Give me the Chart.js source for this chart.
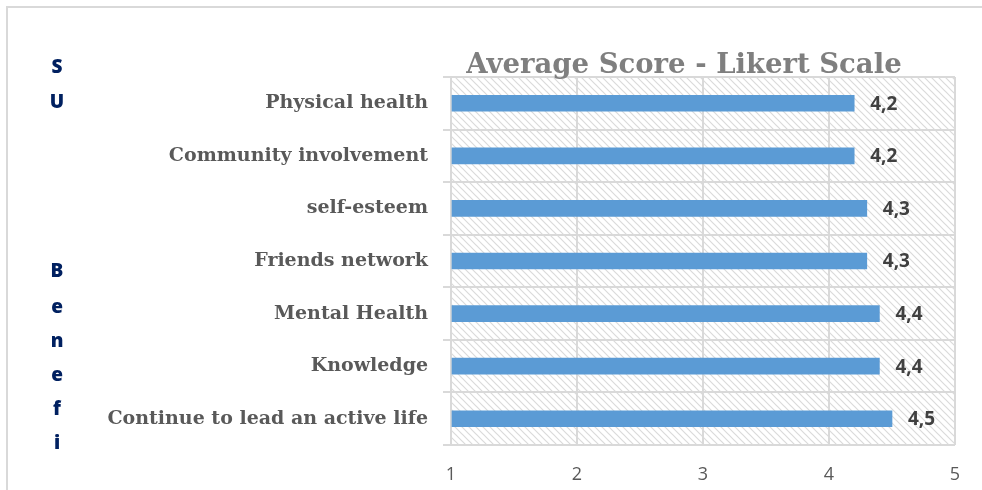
<!DOCTYPE html>
<html>
<head>
<meta charset="utf-8">
<script src="https://cdn.jsdelivr.net/npm/chart.js@4/dist/chart.umd.min.js"></script>
<style>
  html, body { margin: 0; padding: 0; background: #ffffff; }
  #myChart { display: block; }
</style>
</head>
<body>
<canvas id="myChart" width="982" height="490"></canvas>
<script>
// Benefit categories and their average Likert scores
const categories = [
  "Physical health",
  "Community involvement",
  "self-esteem",
  "Friends network",
  "Mental Health",
  "Knowledge",
  "Continue to lead an active life",
];
const scores = [4.2, 4.2, 4.3, 4.3, 4.4, 4.4, 4.5];
const scaleMin = 1;
const scaleMax = 5;
const chartTitle = "Average Score - Likert Scale";
const sideLetters = [["S", 68], ["U", 103], ["B", 272], ["e", 308], ["n", 342], ["e", 376], ["f", 410], ["i", 444]];

const gridColor = "#d9d9d9";
const serif = "'DejaVu Serif', serif";
const sans = "'Open Sans', sans-serif";

// Diagonal hatch used behind the bars
function makeHatch(ctx) {
  const tile = document.createElement("canvas");
  tile.width = 7;
  tile.height = 7;
  const t = tile.getContext("2d");
  t.fillStyle = "#ffffff";
  t.fillRect(0, 0, 7, 7);
  t.strokeStyle = "#dadada";
  t.lineWidth = 1.2;
  t.beginPath();
  t.moveTo(-1, -1);
  t.lineTo(8, 8);
  t.moveTo(-1, 6);
  t.lineTo(1, 8);
  t.moveTo(6, -1);
  t.lineTo(8, 1);
  t.stroke();
  return ctx.createPattern(tile, "repeat");
}

const decorations = {
  id: "decorations",
  beforeDraw(chart) {
    const { ctx, chartArea } = chart;
    ctx.save();
    // outer frame
    ctx.strokeStyle = gridColor;
    ctx.lineWidth = 2;
    ctx.beginPath();
    ctx.moveTo(7, 490);
    ctx.lineTo(7, 7);
    ctx.lineTo(982, 7);
    ctx.stroke();
    // hatched plot background
    ctx.fillStyle = makeHatch(ctx);
    ctx.fillRect(chartArea.left, chartArea.top, chartArea.right - chartArea.left, chartArea.bottom - chartArea.top);
    ctx.restore();
  },
  afterDraw(chart) {
    const { ctx } = chart;
    ctx.save();
    // title
    ctx.fillStyle = "#7f7f7f";
    ctx.font = "bold 27.5px " + serif;
    ctx.textAlign = "center";
    ctx.textBaseline = "alphabetic";
    ctx.fillText(chartTitle, 684, 73);
    // leftover axis title letters
    ctx.fillStyle = "#002060";
    ctx.font = "800 19px " + sans;
    ctx.textBaseline = "middle";
    sideLetters.forEach(([ch, y]) => ctx.fillText(ch, 57, y));
    // value labels next to each bar
    const meta = chart.getDatasetMeta(0);
    ctx.fillStyle = "#404040";
    ctx.font = "bold 19px " + sans;
    ctx.textAlign = "left";
    meta.data.forEach((bar, i) => {
      const text = scores[i].toFixed(1).replace(".", ",");
      ctx.fillText(text, bar.x + 16, bar.y + 1);
    });
    ctx.restore();
  },
};

const ctx = document.getElementById("myChart");
const myChart = new Chart(ctx, {
  type: "bar",
  data: {
    labels: categories,
    datasets: [
      {
        data: scores,
        base: scaleMin,
        backgroundColor: "#5b9bd5",
        barThickness: 16,
      },
    ],
  },
  options: {
    indexAxis: "y",
    responsive: false,
    animation: false,
    layout: { padding: { top: 77, right: 27, bottom: 0, left: 0 } },
    plugins: {
      legend: { display: false },
      tooltip: { enabled: false },
    },
    scales: {
      x: {
        type: "linear",
        min: scaleMin,
        max: scaleMax,
        ticks: {
          stepSize: 1,
          color: "#595959",
          font: { family: sans, size: 18 },
          padding: 19,
        },
        grid: { color: gridColor, lineWidth: 2, drawTicks: false },
        border: { display: false },
        afterFit(scale) {
          scale.height = 45;
        },
      },
      y: {
        ticks: {
          color: "#595959",
          font: { family: serif, size: 19, weight: "bold" },
          padding: 15,
        },
        grid: { color: gridColor, lineWidth: 2, tickLength: 8, offset: true },
        border: { display: false },
        afterFit(scale) {
          scale.width = 451;
        },
      },
    },
  },
  plugins: [decorations],
});
</script>
</body>
</html>
